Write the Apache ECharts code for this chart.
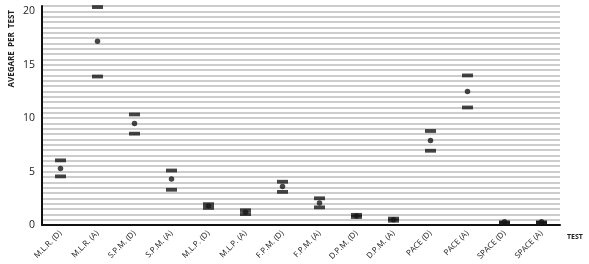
<!DOCTYPE html>
<html>
<head>
<meta charset="utf-8">
<script src="https://cdn.jsdelivr.net/npm/echarts@6/dist/echarts.min.js"></script>
<style>html,body{margin:0;padding:0;background:#fff;}#c{width:589px;height:264px;}</style>
</head>
<body>
<div id="c"></div>
<script>
var categories = ['M.L.R. (D)','M.L.R. (A)','S.P.M. (D)','S.P.M. (A)','M.L.P. (D)','M.L.P. (A)','F.P.M. (D)','F.P.M. (A)','D.P.M. (D)','D.P.M. (A)','PACE (D)','PACE (A)','SPACE (D)','SPACE (A)'];
var upperValues = [6.05, 20.4, 10.35, 5.1, 1.95, 1.38, 4.05, 2.5, 0.95, 0.6, 8.8, 14.0, 0.25, 0.25];
var meanValues  = [5.3, 17.2, 9.5, 4.3, 1.78, 1.2, 3.6, 2.05, 0.85, 0.5, 7.9, 12.5, 0.3, 0.3];
var lowerValues = [4.55, 13.9, 8.55, 3.3, 1.6, 1.02, 3.1, 1.65, 0.75, 0.4, 6.95, 11.0, 0.2, 0.2];
var yTickLabels = [0, 5, 10, 15, 20];

var chart = echarts.init(document.getElementById('c'), null, {renderer: 'canvas'});
var ink = '#161616';
var fontFam = '"Open Sans", "Noto Sans", sans-serif';
chart.setOption({
  animation: false,
  grid: {left: 42, right: 29, top: 6, bottom: 39, containLabel: false},
  xAxis: {
    type: 'category',
    data: categories,
    boundaryGap: true,
    axisLine: {show: true, lineStyle: {color: '#111', width: 2}},
    axisTick: {show: false},
    axisLabel: {rotate: 45, interval: 0, fontSize: 8, fontFamily: fontFam, color: '#222', margin: 7}
  },
  yAxis: {
    type: 'value',
    min: 0, max: 20.5, interval: 0.5,
    axisLine: {show: true, lineStyle: {color: '#111', width: 2}},
    axisTick: {show: false},
    splitLine: {show: true, lineStyle: {color: '#bdbdbd', width: 1.5}},
    axisLabel: {
      fontSize: 10.5, fontFamily: fontFam, color: '#222', margin: 7,
      formatter: function (v) { return yTickLabels.indexOf(v) >= 0 ? String(v) : ''; }
    }
  },
  graphic: [
    {type: 'text', left: 8, top: 10, rotation: Math.PI / 2,
     style: {text: 'AVEGARE  PER  TEST', fontSize: 8, fontWeight: 'bold', fontFamily: fontFam, fill: '#222'}},
    {type: 'text', left: 567, top: 233,
     style: {text: 'TEST', fontSize: 7, fontWeight: 'bold', fontFamily: fontFam, fill: '#222'}}
  ],
  series: [
    {type: 'scatter', data: upperValues, symbol: 'rect', symbolSize: [11, 3.8], itemStyle: {color: ink}},
    {type: 'scatter', data: lowerValues, symbol: 'rect', symbolSize: [11, 3.8], itemStyle: {color: ink}},
    {type: 'scatter', data: meanValues, symbol: 'circle', symbolSize: 5.5, itemStyle: {color: ink}}
  ]
});
</script>
</body>
</html>
